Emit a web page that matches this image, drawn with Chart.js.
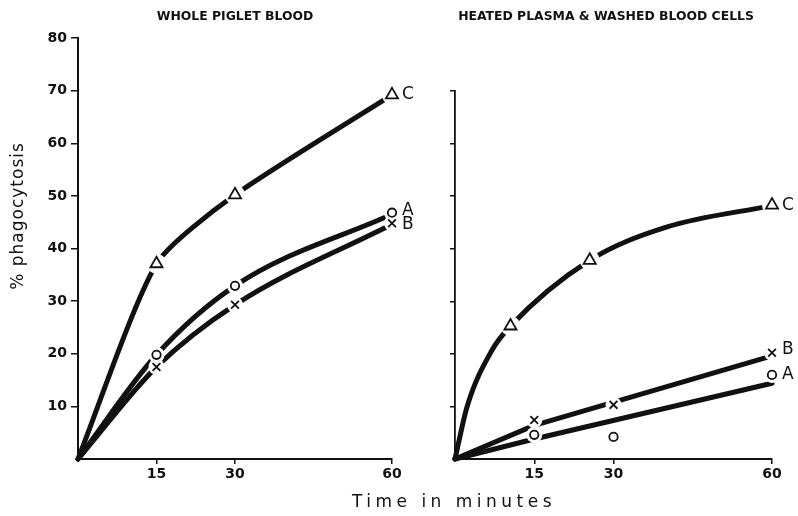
<!DOCTYPE html>
<html><head><meta charset="utf-8">
<script src="https://cdn.jsdelivr.net/npm/chart.js@4.4.1/dist/chart.umd.min.js"></script>
<style>
html,body{margin:0;padding:0;background:#fff;}
body{width:798px;height:516px;position:relative;overflow:hidden;}
#wl{position:absolute;left:0;top:0;width:420px;height:516px;}
#wr{position:absolute;left:440px;top:0;width:358px;height:516px;}
#xt{position:absolute;left:250px;width:408px;top:492px;text-align:center;font:17px "DejaVu Sans";letter-spacing:4.5px;color:#111;line-height:18px;}
</style></head><body>
<div id="wl"><canvas id="cl"></canvas></div>
<div id="wr"><canvas id="cr"></canvas></div>
<div id="xt">Time in minutes</div>
<script>
// ---- tick values / labels ----
const xTickValues = [15, 30, 60];
const xTickLabels = ['15', '30', '60'];
const leftYTickValues = [10, 20, 30, 40, 50, 60, 70, 80];
const leftYTickLabels = ['10', '20', '30', '40', '50', '60', '70', '80'];
const rightYTickValues = [10, 20, 30, 40, 50, 60, 70];
const seriesNames = ['A', 'B', 'C'];
const panelTitles = ['WHOLE PIGLET BLOOD', 'HEATED PLASMA & WASHED BLOOD CELLS'];

// ---- WHOLE PIGLET BLOOD: observed points ----
const leftTimes = [15, 30, 60];
const leftA = [19.8, 32.9, 46.8];
const leftB = [17.5, 29.3, 44.8];
const leftC = [37.1, 50.2, 69.2];
// drawn curves
const leftCurveTimes = [0, 15, 30, 60];
const leftCurveA = [0, 19.8, 32.9, 46.5];
const leftCurveB = [0, 17.5, 29.3, 44.6];
const leftCurveC = [0, 37.1, 50.2, 69.2];

// ---- HEATED PLASMA & WASHED BLOOD CELLS: observed points ----
const rightTimesAB = [15, 30, 60];
const rightA = [4.6, 4.2, 16.0];
const rightB = [7.4, 10.3, 20.2];
const rightTimesC = [10.5, 25.5, 60];
const rightC = [25.3, 37.8, 48.3];
// drawn curves
const rightCurveTimesAB = [0, 15, 60];
const rightCurveA = [0, 3.8, 14.4];
const rightCurveB = [0, 6.4, 19.6];
const rightCurveTimesC = [0, 2.3, 7, 10.5, 25.5, 40, 60];
const rightCurveC = [0, 10, 20.7, 25.3, 37.8, 44.1, 48.2];

const INK = '#111';
const markerStyles = ['circle', 'crossRot', 'triangle'];
const markerRadius = [4.2, 5.5, 7];
const haloRadius = [8, 8, 10];

const pts = (t, v) => t.map((x, i) => ({x: x, y: v[i]}));

function curveStyle(mode) {
  if (mode === 'monotone') return {cubicInterpolationMode: 'monotone'};
  if (typeof mode === 'number') return {tension: mode};
  return {tension: 0};
}

function buildDatasets(curves, markers) {
  const ds = [];
  curves.forEach((c, i) => ds.push(Object.assign({
    label: seriesNames[i] + ' curve', data: pts(c.t, c.v), showLine: true,
    borderColor: INK, borderWidth: 5, pointRadius: 0,
    borderCapStyle: 'round', borderJoinStyle: 'round', order: 3, clip: false
  }, curveStyle(c.mode))));
  markers.forEach((m, i) => ds.push({
    label: seriesNames[i] + ' gap', data: pts(m.t, m.v), showLine: false,
    pointStyle: 'circle', pointRadius: haloRadius[i], pointBackgroundColor: '#fff',
    pointBorderWidth: 0, pointBorderColor: '#fff', order: 2, clip: false
  }));
  markers.forEach((m, i) => ds.push({
    label: seriesNames[i], data: pts(m.t, m.v), showLine: false,
    pointStyle: markerStyles[i], pointRadius: markerRadius[i], pointBackgroundColor: '#fff',
    pointBorderColor: INK, pointBorderWidth: 1.8, order: 1, clip: false
  }));
  return ds;
}

const endLabels = {
  id: 'endLabels',
  afterDatasetsDraw(chart, args, o) {
    const ctx = chart.ctx, xs = chart.scales.x, ys = chart.scales.y;
    ctx.save();
    ctx.font = o.font; ctx.fillStyle = INK; ctx.textAlign = 'left'; ctx.textBaseline = 'middle';
    o.items.forEach(it => ctx.fillText(it.text, xs.getPixelForValue(it.x) + o.dx, ys.getPixelForValue(it.y) + (it.dy || 0)));
    ctx.restore();
  }
};
const yTitle = {
  id: 'yTitle',
  afterDraw(chart, args, o) {
    if (!o.text) return;
    const ctx = chart.ctx;
    ctx.save();
    ctx.translate(o.x, o.y); ctx.rotate(-Math.PI / 2);
    ctx.font = o.font; ctx.letterSpacing = o.spacing;
    ctx.textAlign = 'center'; ctx.textBaseline = 'middle'; ctx.fillStyle = INK;
    ctx.fillText(o.text, 0, 0);
    ctx.restore();
  }
};

function xScale() {
  return {
    type: 'linear', min: 0, max: 60,
    afterBuildTicks: s => { s.ticks = xTickValues.map(v => ({value: v})); },
    afterFit: s => { s.height = 57; },
    ticks: {color: INK, font: {family: 'DejaVu Sans', size: 14, weight: 'bold'}, padding: 2,
      autoSkip: false, maxRotation: 0, callback: (v, i) => xTickLabels[i]},
    grid: {drawOnChartArea: false, drawTicks: true, tickLength: 5, color: INK, lineWidth: 1.5},
    border: {display: true, color: INK, width: 2}
  };
}

const common = {
  responsive: true, maintainAspectRatio: false, animation: false, devicePixelRatio: 1, events: []
};

new Chart(document.getElementById('cl'), {
  type: 'scatter',
  data: {datasets: buildDatasets(
    [{t: leftCurveTimes, v: leftCurveA, mode: 'monotone'}, {t: leftCurveTimes, v: leftCurveB, mode: 'monotone'}, {t: leftCurveTimes, v: leftCurveC, mode: 0.22}],
    [{t: leftTimes, v: leftA}, {t: leftTimes, v: leftB}, {t: leftTimes, v: leftC}]
  )},
  options: Object.assign({}, common, {
    layout: {padding: {left: 0, right: 28, top: 0, bottom: 0}},
    scales: {
      x: xScale(),
      y: {
        type: 'linear', min: 0, max: 80,
        afterBuildTicks: s => { s.ticks = leftYTickValues.map(v => ({value: v})); },
        afterFit: s => { s.width = 78; },
        ticks: {color: INK, font: {family: 'DejaVu Sans', size: 14, weight: 'bold'}, padding: 4,
          callback: (v, i) => leftYTickLabels[i]},
        grid: {drawOnChartArea: false, drawTicks: true, tickLength: 7, color: INK, lineWidth: 1.5},
        border: {display: true, color: INK, width: 2}
      }
    },
    plugins: {
      legend: {display: false}, tooltip: {enabled: false},
      title: {display: true, text: panelTitles[0], fullSize: false, color: INK,
        font: {family: 'DejaVu Sans', size: 12.4, weight: 'bold', lineHeight: 1},
        padding: {top: 11, bottom: 14.6}},
      endLabels: {font: '17px "DejaVu Sans"', dx: 10, items: [
        {text: seriesNames[0], x: 60, y: leftA[2], dy: -2},
        {text: seriesNames[1], x: 60, y: leftB[2], dy: 1},
        {text: seriesNames[2], x: 60, y: leftC[2]}
      ]},
      yTitle: {text: '% phagocytosis', font: '17px "DejaVu Sans"', spacing: '1px', x: 19, y: 216}
    }
  }),
  plugins: [endLabels, yTitle]
});

new Chart(document.getElementById('cr'), {
  type: 'scatter',
  data: {datasets: buildDatasets(
    [{t: rightCurveTimesAB, v: rightCurveA}, {t: rightCurveTimesAB, v: rightCurveB}, {t: rightCurveTimesC, v: rightCurveC, mode: 'monotone'}],
    [{t: rightTimesAB, v: rightA}, {t: rightTimesAB, v: rightB}, {t: rightTimesC, v: rightC}]
  )},
  options: Object.assign({}, common, {
    layout: {padding: {left: 0, right: 26, top: 0, bottom: 0}},
    scales: {
      x: xScale(),
      y: {
        type: 'linear', min: 0, max: 70,
        afterBuildTicks: s => { s.ticks = rightYTickValues.map(v => ({value: v})); },
        afterFit: s => { s.width = 15; },
        ticks: {display: false},
        grid: {drawOnChartArea: false, drawTicks: true, tickLength: 5, color: INK, lineWidth: 1.5},
        border: {display: true, color: INK, width: 1.8}
      }
    },
    plugins: {
      legend: {display: false}, tooltip: {enabled: false},
      title: {display: true, text: panelTitles[1], fullSize: true, color: INK,
        font: {family: 'DejaVu Sans', size: 12.4, weight: 'bold', lineHeight: 1},
        padding: {top: 11, bottom: 67.6}},
      endLabels: {font: '17px "DejaVu Sans"', dx: 10, items: [
        {text: seriesNames[0], x: 60, y: rightA[2]},
        {text: seriesNames[1], x: 60, y: rightB[2], dy: -3},
        {text: seriesNames[2], x: 60, y: rightC[2]}
      ]},
      yTitle: {text: ''}
    }
  }),
  plugins: [endLabels, yTitle]
});
</script>
</body></html>
